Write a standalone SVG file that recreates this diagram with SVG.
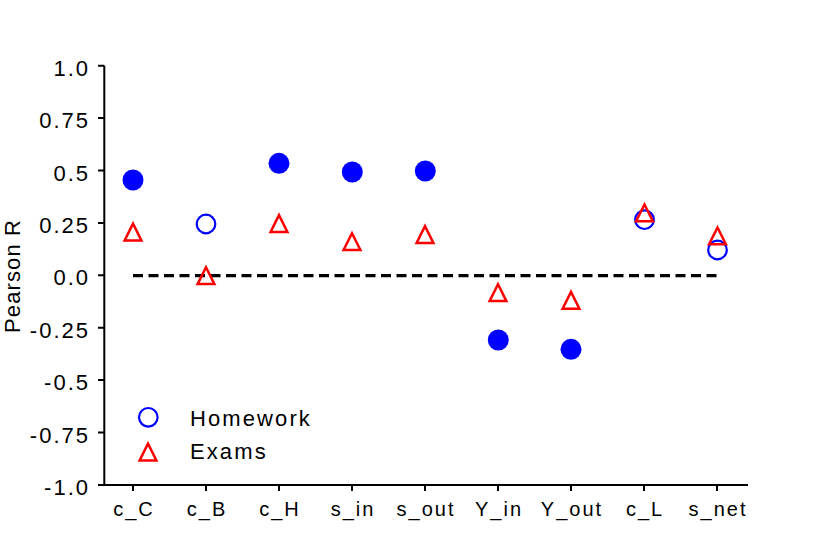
<svg xmlns="http://www.w3.org/2000/svg" xmlns:xlink="http://www.w3.org/1999/xlink" width="830" height="554" viewBox="0 0 830 554">
<style>
text{font-family:"Liberation Sans",Arial,sans-serif;fill:#000}
.tick{font-size:22px;letter-spacing:2px;text-anchor:end}
.xl{font-size:20px;letter-spacing:2px;text-anchor:middle}
.lg{font-size:22px;letter-spacing:2.1px}
.ax{stroke:#000;stroke-width:2;fill:none}
.fc{fill:#0000FF;stroke:none}
.oc{fill:none;stroke:#0000FF;stroke-width:2.2}
.tr{fill:none;stroke:#FF0000;stroke-width:2.5;stroke-linejoin:miter}
</style>
<defs>
<path id="tri" d="M0,-7.7 L8.4,9.1 L-8.4,9.1 Z"/>
</defs>
<rect width="830" height="554" fill="#fff"/>
<g id="axes">
<path class="ax" d="M104.3,65.7 V484.9 H748"/>
<path class="ax" d="M98,65.7 H104.3 M98,118.1 H104.3 M98,170.5 H104.3 M98,222.9 H104.3 M98,275.3 H104.3 M98,327.7 H104.3 M98,380.1 H104.3 M98,432.5 H104.3 M98,484.9 H104.3"/>
<path class="ax" d="M133,484.9 V491 M206,484.9 V491 M279,484.9 V491 M352,484.9 V491 M425,484.9 V491 M498,484.9 V491 M571,484.9 V491 M644,484.9 V491 M717,484.9 V491"/>
<text class="tick" x="90" y="75.7">1.0</text>
<text class="tick" x="90" y="128.1">0.75</text>
<text class="tick" x="90" y="180.5">0.5</text>
<text class="tick" x="90" y="232.9">0.25</text>
<text class="tick" x="90" y="285.3">0.0</text>
<text class="tick" x="90" y="337.7">-0.25</text>
<text class="tick" x="90" y="390.1">-0.5</text>
<text class="tick" x="90" y="442.5">-0.75</text>
<text class="tick" x="90" y="494.9">-1.0</text>
<text class="xl" x="134" y="516">c_C</text>
<text class="xl" x="207" y="516">c_B</text>
<text class="xl" x="280" y="516">c_H</text>
<text class="xl" x="353" y="516">s_in</text>
<text class="xl" x="426" y="516">s_out</text>
<text class="xl" x="499" y="516">Y_in</text>
<text class="xl" x="572" y="516">Y_out</text>
<text class="xl" x="645" y="516">c_L</text>
<text class="xl" x="718" y="516">s_net</text>
<text transform="translate(20,276) rotate(-90)" style="font-size:22px;letter-spacing:1.1px;text-anchor:middle">Pearson R</text>
</g>
<g id="connectors">
<path d="M133,275.6 H717" stroke="#000" stroke-width="3.2" stroke-dasharray="10 5.5" fill="none"/>
</g>
<g id="homework">
<circle class="fc" cx="133" cy="180" r="10.5"/>
<circle class="oc" cx="206" cy="224" r="9.3"/>
<circle class="fc" cx="279" cy="163.3" r="10.5"/>
<circle class="fc" cx="352.3" cy="172" r="10.5"/>
<circle class="fc" cx="425.3" cy="171" r="10.5"/>
<circle class="fc" cx="498.3" cy="340" r="10.5"/>
<circle class="fc" cx="571" cy="349.3" r="10.5"/>
<circle class="oc" cx="644.5" cy="219.7" r="9.3"/>
<circle class="oc" cx="717.5" cy="250" r="9.3"/>
</g>
<g id="exams">
<use xlink:href="#tri" class="tr" x="133" y="231.3"/>
<use xlink:href="#tri" class="tr" x="206" y="275"/>
<use xlink:href="#tri" class="tr" x="279" y="222.8"/>
<use xlink:href="#tri" class="tr" x="352" y="240.9"/>
<use xlink:href="#tri" class="tr" x="425" y="233.8"/>
<use xlink:href="#tri" class="tr" x="498" y="292"/>
<use xlink:href="#tri" class="tr" x="571" y="299.6"/>
<use xlink:href="#tri" class="tr" x="644.5" y="212.2"/>
<use xlink:href="#tri" class="tr" x="717.5" y="235.2"/>
</g>
<g id="legend">
<circle class="oc" cx="148.3" cy="417.3" r="9.3"/>
<use xlink:href="#tri" class="tr" x="148" y="451.3"/>
<text class="lg" x="190" y="425.7">Homework</text>
<text class="lg" x="190" y="459">Exams</text>
</g>
</svg>
